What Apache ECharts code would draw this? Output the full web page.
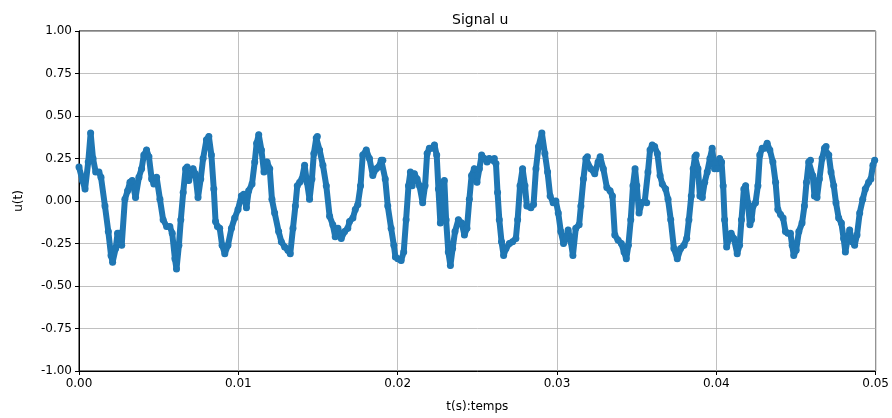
<!DOCTYPE html>
<html>
<head>
<meta charset="utf-8">
<script src="https://cdn.jsdelivr.net/npm/echarts@6/dist/echarts.min.js"></script>
<style>
  html, body { margin: 0; padding: 0; background: #fff; }
  #chart { width: 892px; height: 418px; }
</style>
</head>
<body>
<div id="chart"></div>
<script>
// temps en millisecondes
const tMs = [
  0, 0.22, 0.38, 0.58, 0.73, 0.88, 1.05, 1.25, 1.38, 1.63, 1.84, 2.01, 2.11, 2.30, 2.42, 2.53, 2.68, 2.88, 3.05, 3.20,
  3.34, 3.55, 3.76, 3.93, 4.07, 4.24, 4.39, 4.56, 4.70, 4.87, 5.08, 5.28, 5.50, 5.70, 5.85, 6.02, 6.12,
  6.27, 6.39, 6.54, 6.69, 6.79, 6.89, 7.02, 7.16, 7.30, 7.47, 7.64, 7.79, 8.00, 8.15, 8.31, 8.46, 8.57, 8.69, 8.83, 8.98,
  9.15, 9.35, 9.57, 9.77, 9.98, 10.19, 10.34, 10.51, 10.65, 10.86, 11.03, 11.15, 11.28, 11.45, 11.61, 11.80, 11.97, 12.11, 12.28, 12.53,
  12.70, 12.91, 13.11, 13.26, 13.43, 13.58, 13.70, 13.85, 13.99, 14.16, 14.31, 14.47, 14.62, 14.74, 14.89, 14.96, 15.10, 15.31, 15.52, 15.73,
  15.93, 16.08, 16.25, 16.46, 16.67, 16.87, 16.98, 17.19, 17.34, 17.50, 17.67, 17.81, 18.03, 18.23, 18.44, 18.65,
  18.80, 18.97, 19.07, 19.22, 19.38, 19.59, 19.76, 19.86, 20.01, 20.22, 20.38, 20.53, 20.68, 20.80, 20.91, 21.05, 21.22, 21.37, 21.57, 21.72,
  21.85, 21.99, 22.14, 22.31, 22.45, 22.56, 22.68, 22.79, 22.93, 23.04, 23.18, 23.31, 23.45, 23.60, 23.81, 24.02, 24.19, 24.35, 24.50, 24.64, 24.81,
  24.98, 25.13, 25.27, 25.44, 25.61, 25.75, 25.96, 26.07, 26.17, 26.27, 26.38, 26.52, 26.65, 26.80, 27.01, 27.21, 27.42, 27.53, 27.68, 27.84,
  27.99, 28.11, 28.36, 28.53, 28.68, 28.84, 29.05, 29.24, 29.41, 29.57, 29.76, 29.93, 30.08, 30.24, 30.41, 30.56, 30.70, 30.87, 31.00, 31.18,
  31.39, 31.50, 31.66, 31.81, 31.91, 32.12, 32.37, 32.58, 32.71, 32.91, 33.13, 33.33, 33.48, 33.63, 33.83, 34.04, 34.21, 34.35, 34.48, 34.63,
  34.77, 34.90, 35.01, 35.15, 35.32, 35.51, 35.63, 35.71, 35.84, 35.98, 36.13, 36.30, 36.47, 36.61, 36.82, 36.97, 37.14, 37.34, 37.55,
  37.76, 37.97, 38.14, 38.28, 38.43, 38.55, 38.66, 38.74, 38.85, 38.97, 39.12, 39.27, 39.43, 39.60, 39.74, 39.89, 40.06, 40.21, 40.33, 40.43,
  40.52, 40.65, 40.79, 40.93, 41.10, 41.31, 41.46, 41.58, 41.73, 41.84, 41.98, 42.11, 42.21, 42.31, 42.46, 42.61, 42.73, 42.88, 43.03, 43.19,
  43.36, 43.55, 43.72, 43.86,
  44.03, 44.19, 44.34, 44.49, 44.65, 44.76, 44.86, 45.01, 45.18, 45.38, 45.53, 45.66, 45.80, 45.91, 46.05, 46.16, 46.32, 46.47, 46.64, 46.79,
  46.89, 47.06, 47.20, 47.37, 47.51, 47.68, 47.85, 47.99, 48.10, 48.25, 48.37, 48.52, 48.68, 48.83, 49.00, 49.19, 49.35, 49.56, 49.70, 49.83, 49.94
];

// signal u(t)
const uVals = [
  0.20, 0.12, 0.07, 0.23, 0.40, 0.25, 0.17, 0.17, 0.14, -0.03, -0.18, -0.32, -0.36, -0.28, -0.19, -0.19, -0.26, 0.01, 0.06, 0.11,
  0.12, 0.02, 0.14, 0.19, 0.27, 0.30, 0.26, 0.13, 0.10, 0.14, 0.01, -0.11, -0.15, -0.15, -0.19, -0.34, -0.40,
  -0.26, -0.11, 0.05, 0.19, 0.20, 0.12, 0.16, 0.19, 0.16, 0.02, 0.13, 0.25, 0.36, 0.38, 0.27, 0.07, -0.12, -0.15, -0.16, -0.26,
  -0.31, -0.26, -0.16, -0.10, -0.05, 0.03, 0.04, -0.04, 0.06, 0.10, 0.23, 0.34, 0.39, 0.30, 0.17, 0.23, 0.19, 0.01, -0.07, -0.18,
  -0.24, -0.27, -0.29, -0.31, -0.16, -0.03, 0.09, 0.11, 0.13, 0.21, 0.11, 0.01, 0.13, 0.28, 0.37, 0.38, 0.30, 0.21, 0.09, -0.09,
  -0.14, -0.21, -0.16, -0.22, -0.18, -0.16, -0.12, -0.10, -0.05, -0.02, 0.09, 0.27, 0.30, 0.25, 0.15, 0.19,
  0.20, 0.24, 0.24, 0.13, -0.03, -0.16, -0.26, -0.33, -0.34, -0.35, -0.30, -0.11, 0.09, 0.17, 0.09, 0.16, 0.13, 0.09, -0.01, 0.09,
  0.28, 0.31, 0.31, 0.33, 0.27, 0.07, -0.13, 0.05, 0.12, -0.11, -0.30, -0.38, -0.28, -0.18, -0.11, -0.13, -0.20, -0.16, 0.01, 0.15, 0.19,
  0.11, 0.19, 0.27, 0.25, 0.23, 0.25, 0.24, 0.25, 0.22, 0.05, -0.11, -0.24, -0.32, -0.28, -0.25, -0.24, -0.22, -0.11, 0.09, 0.19,
  0.09, -0.03, -0.04, -0.02, 0.19, 0.32, 0.40, 0.28, 0.17, 0.03, -0.01, 0.00, -0.07, -0.18, -0.25, -0.22, -0.17, -0.24, -0.32, -0.16,
  -0.14, -0.03, 0.13, 0.25, 0.26, 0.19, 0.16, 0.23, 0.26, 0.19, 0.08, 0.06, 0.03, -0.20, -0.23, -0.25, -0.30, -0.34, -0.26, -0.11,
  0.09, 0.19, 0.09, -0.07, -0.01, 0.00, -0.01, 0.17, 0.30, 0.33, 0.32, 0.28, 0.15, 0.10, 0.07, 0.01, -0.11, -0.28, -0.34,
  -0.28, -0.26, -0.22, -0.11, 0.03, 0.19, 0.26, 0.27, 0.19, 0.03, 0.02, 0.11, 0.17, 0.25, 0.31, 0.19, 0.19, 0.25, 0.23, 0.09,
  -0.11, -0.27, -0.22, -0.19, -0.22, -0.31, -0.26, -0.11, 0.07, 0.09, -0.01, -0.14, -0.11, -0.03, -0.01, 0.09, 0.27, 0.31, 0.31, 0.34,
  0.30, 0.23, 0.11, -0.05,
  -0.08, -0.10, -0.18, -0.19, -0.19, -0.26, -0.32, -0.29, -0.18, -0.13, -0.03, 0.11, 0.23, 0.24, 0.15, 0.03, 0.02, 0.13, 0.25, 0.31,
  0.32, 0.27, 0.17, 0.09, -0.01, -0.10, -0.13, -0.22, -0.30, -0.22, -0.17, -0.24, -0.26, -0.20, -0.07, 0.01, 0.07, 0.11, 0.13, 0.21, 0.24
];

const xTicks = [0, 0.01, 0.02, 0.03, 0.04, 0.05];
const yTicks = [-1, -0.75, -0.5, -0.25, 0, 0.25, 0.5, 0.75, 1];

const points = tMs.map((t, i) => [t / 1000, uVals[i]]);

const myChart = echarts.init(document.getElementById("chart"));
const txt = { color: "#000", fontFamily: "DejaVu Sans", fontSize: 12 };

myChart.setOption({
  animation: false,
  title: {
    text: "Signal u",
    left: 447,
    top: 8,
    textStyle: { color: "#000", fontFamily: "DejaVu Sans", fontSize: 14, fontWeight: "normal" },
  },
  grid: {
    left: 79,
    right: 15,
    top: 31,
    bottom: 45,
    show: true,
    borderColor: "#000",
    borderWidth: 1,
  },
  xAxis: {
    type: "value",
    min: xTicks[0],
    max: xTicks[xTicks.length - 1],
    interval: 0.01,
    name: "t(s):temps",
    nameLocation: "middle",
    nameGap: 30,
    nameTextStyle: txt,
    axisLine: { show: true, onZero: false, lineStyle: { color: "#000", width: 1 } },
    axisTick: { show: true, length: 4, inside: false, lineStyle: { color: "#000" } },
    axisLabel: Object.assign({ margin: 7, formatter: (v) => v.toFixed(2) }, txt),
    splitLine: { show: true, lineStyle: { color: "#b0b0b0", width: 0.8 } },
  },
  yAxis: {
    type: "value",
    min: yTicks[0],
    max: yTicks[yTicks.length - 1],
    interval: 0.25,
    name: "u(t)",
    nameLocation: "middle",
    nameRotate: 90,
    nameGap: 54,
    nameTextStyle: txt,
    axisLine: { show: true, onZero: false, lineStyle: { color: "#000", width: 1 } },
    axisTick: { show: true, length: 4, inside: false, lineStyle: { color: "#000" } },
    axisLabel: Object.assign({ margin: 7, formatter: (v) => v.toFixed(2) }, txt),
    splitLine: { show: true, lineStyle: { color: "#b0b0b0", width: 0.8 } },
  },
  series: [
    {
      name: "u",
      type: "line",
      data: points,
      showSymbol: true,
      symbol: "circle",
      symbolSize: 7,
      itemStyle: { color: "#1f77b4" },
      lineStyle: { color: "#1f77b4", width: 6, cap: "round", join: "round" },
    },
  ],
});
</script>
</body>
</html>
